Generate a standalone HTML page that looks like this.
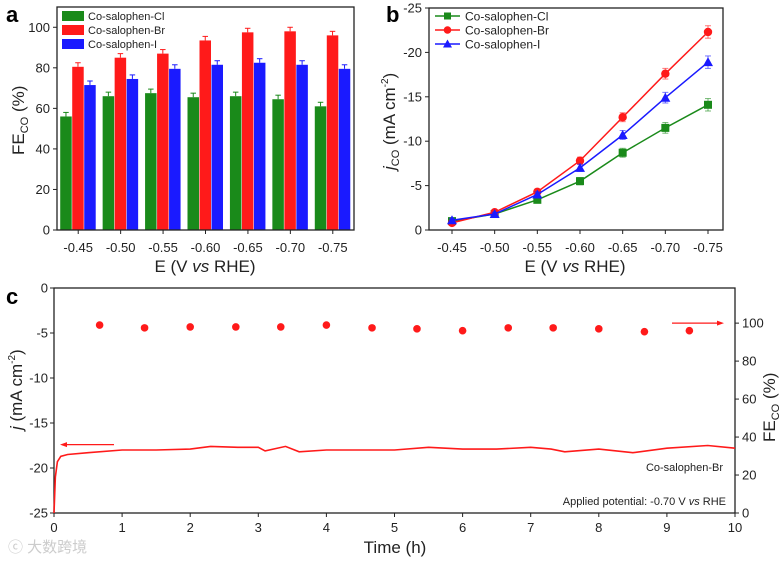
<!DOCTYPE html>
<html><head><meta charset="utf-8"><style>
body{margin:0;background:#fff;}
svg{display:block;font-family:"Liberation Sans","Noto Sans CJK SC",sans-serif;}
</style></head><body>
<svg id="s" width="779" height="561" viewBox="0 0 779 561"></svg>
<script>
const cats=['-0.45','-0.50','-0.55','-0.60','-0.65','-0.70','-0.75'];
const feCl=[56,66,67.5,65.5,66,64.5,61];
const feBr=[80.5,85,87,93.5,97.5,98,96];
const feI=[71.5,74.5,79.5,81.5,82.5,81.5,79.5];
const feErr=[2,2,2,2,2,2,2];
const jCl=[-1,-1.8,-3.4,-5.5,-8.7,-11.5,-14.1];
const jBr=[-0.8,-2,-4.3,-7.8,-12.7,-17.6,-22.3];
const jI=[-1.1,-1.8,-4,-7,-10.7,-14.9,-18.9];
const jErr=[0.2,0.2,0.3,0.4,0.5,0.6,0.7];
const aTicks=[0,20,40,60,80,100];
const bTicks=[0,-5,-10,-15,-20,-25];
const cTime=[0,0.02,0.05,0.1,0.2,0.5,1,1.5,2,2.3,2.7,3,3.1,3.4,3.6,4,4.5,5,5.5,6,6.5,7,7.3,7.5,8,8.5,9,9.6,10];
const cJ=[-25,-21,-19.3,-18.7,-18.5,-18.3,-18,-18,-17.9,-17.6,-17.7,-17.7,-18.1,-17.6,-18.2,-18,-18,-18,-17.7,-17.9,-17.9,-17.7,-17.9,-18.2,-17.9,-18.3,-17.8,-17.5,-17.8];
const fTime=[0.67,1.33,2,2.67,3.33,4,4.67,5.33,6,6.67,7.33,8,8.67,9.33];
const fVal=[99,97.5,98,98,98,99,97.5,97,96,97.5,97.5,97,95.5,96];
const cLeftTicks=[0,-5,-10,-15,-20,-25];
const cRightTicks=[0,20,40,60,80,100];
const cTimeTicks=[0,1,2,3,4,5,6,7,8,9,10];

const S=document.getElementById('s');const NS='http://www.w3.org/2000/svg';
function el(t,a,p){const e=document.createElementNS(NS,t);for(const k in a)e.setAttribute(k,a[k]);(p||S).appendChild(e);return e;}
function tx(x,y,s,o){const e=el('text',Object.assign({x:x,y:y,'font-size':13,fill:'#222'},o||{}));e.textContent=s;return e;}
const G='#1a8a1a',R='#ff1a1a',B='#1a1aff';

// Panel a
const ax0=57,ax1=354,ay0=230,ay1=7;
const aY=v=>ay0-(v/110)*(ay0-ay1);
const aX=i=>ax0+(i+0.5)*(ax1-ax0)/7;
[[feCl,G,'cl'],[feBr,R,'br'],[feI,B,'i']].forEach((s,k)=>{s[0].forEach((v,i)=>{const x=aX(i)-18+k*12;
const r=el('rect',{x:x,y:aY(v),width:11.5,height:ay0-aY(v),fill:s[1]});

el('line',{x1:x+5.75,x2:x+5.75,y1:aY(v),y2:aY(v+feErr[i]),stroke:s[1]});
el('line',{x1:x+3,x2:x+8.5,y1:aY(v+feErr[i]),y2:aY(v+feErr[i]),stroke:s[1]});});});
el('rect',{x:ax0,y:ay1,width:ax1-ax0,height:ay0-ay1,fill:'none',stroke:'#222','stroke-width':1.3,});
aTicks.forEach(v=>{el('line',{x1:ax0-4,x2:ax0,y1:aY(v),y2:aY(v),stroke:'#222'});tx(ax0-7,aY(v)+4.5,v,{'text-anchor':'end'});});
cats.forEach((c,i)=>{el('line',{x1:aX(i),x2:aX(i),y1:ay0,y2:ay0+4,stroke:'#222'});tx(aX(i),ay0+22,c,{'text-anchor':'middle'});});
const at=tx(205,272,'E (V ',{'text-anchor':'middle','font-size':17});const ts=el('tspan',{'font-style':'italic'},at);ts.textContent='vs';const ts2=el('tspan',{},at);ts2.textContent=' RHE)';

const ay=tx(0,0,'FE',{'font-size':17,transform:'translate(24,155) rotate(-90)',});const sb=el('tspan',{'font-size':11,dy:4},ay);sb.textContent='CO';const sb2=el('tspan',{dy:-4},ay);sb2.textContent=' (%)';
tx(6,22,'a',{'font-size':22,'font-weight':'bold',fill:'#000'});
[['Co-salophen-Cl',G],['Co-salophen-Br',R],['Co-salophen-I',B]].forEach((l,i)=>{el('rect',{x:62,y:11+i*14,width:22,height:10,fill:l[1],});tx(88,20+i*14,l[0],{'font-size':11});});

// Panel b
const bx0=429,bx1=723,by0=230,by1=8;
const bY=v=>by0-(v/-25)*(by0-by1);
const bX=i=>452+i*(708-452)/6;
el('rect',{x:bx0,y:by1,width:bx1-bx0,height:by0-by1,fill:'none',stroke:'#222','stroke-width':1.3,});
bTicks.forEach(v=>{el('line',{x1:bx0-4,x2:bx0,y1:bY(v),y2:bY(v),stroke:'#222'});tx(bx0-7,bY(v)+4.5,v,{'text-anchor':'end'});});
cats.forEach((c,i)=>{el('line',{x1:bX(i),x2:bX(i),y1:by0,y2:by0+4,stroke:'#222'});tx(bX(i),by0+22,c,{'text-anchor':'middle'});});
[[jCl,G,'sq','cl'],[jBr,R,'ci','br'],[jI,B,'tr','i']].forEach(s=>{
const p=el('polyline',{points:s[0].map((v,i)=>bX(i)+','+bY(v)).join(' '),fill:'none',stroke:s[1],'stroke-width':1.5});

s[0].forEach((v,i)=>{const x=bX(i),y=bY(v);let m;
const ya=bY(v-jErr[i]),yb=bY(v+jErr[i]);
el('line',{x1:x,x2:x,y1:ya,y2:yb,stroke:s[1],'stroke-opacity':0.6});
el('line',{x1:x-3,x2:x+3,y1:ya,y2:ya,stroke:s[1],'stroke-opacity':0.6});
el('line',{x1:x-3,x2:x+3,y1:yb,y2:yb,stroke:s[1],'stroke-opacity':0.6});
if(s[2]=='sq')m=el('rect',{x:x-4,y:y-4,width:8,height:8,fill:s[1]});
else if(s[2]=='ci')m=el('circle',{cx:x,cy:y,r:4.2,fill:s[1]});
else m=el('polygon',{points:`${x},${y-5} ${x-5},${y+4} ${x+5},${y+4}`,fill:s[1]});
});});
const bt=tx(575,272,'E (V ',{'text-anchor':'middle','font-size':17,});const t1=el('tspan',{'font-style':'italic'},bt);t1.textContent='vs';const t2=el('tspan',{},bt);t2.textContent=' RHE)';
const byt=tx(0,0,'',{'font-size':17,transform:'translate(395,170) rotate(-90)',});const j1=el('tspan',{'font-style':'italic'},byt);j1.textContent='j';const j2=el('tspan',{'font-size':11,dy:4},byt);j2.textContent='CO';const j3=el('tspan',{dy:-4},byt);j3.textContent=' (mA cm';const j4=el('tspan',{'font-size':10,dy:-7},byt);j4.textContent='-2';const j5=el('tspan',{dy:7},byt);j5.textContent=')';
tx(386,22,'b',{'font-size':22,'font-weight':'bold',fill:'#000'});
[['Co-salophen-Cl',G,'sq'],['Co-salophen-Br',R,'ci'],['Co-salophen-I',B,'tr']].forEach((l,i)=>{const y=16+i*14;el('line',{x1:435,x2:460,y1:y,y2:y,stroke:l[1],'stroke-width':1.5});
if(l[2]=='sq')el('rect',{x:444,y:y-3.5,width:7,height:7,fill:l[1]});else if(l[2]=='ci')el('circle',{cx:447.5,cy:y,r:3.8,fill:l[1]});else el('polygon',{points:`447.5,${y-4.5} 443,${y+3.5} 452,${y+3.5}`,fill:l[1]});
tx(465,y+4.5,l[0],{'font-size':12});});

// Panel c
const cx0=54,cx1=735,cy0=513,cy1=288;
const cX=t=>cx0+t/10*(cx1-cx0);
const cY=v=>cy1+(v/-25)*(cy0-cy1);
const cR=v=>cy0-v/118.5*(cy0-cy1);
el('rect',{x:cx0,y:cy1,width:cx1-cx0,height:cy0-cy1,fill:'none',stroke:'#222','stroke-width':1.3,});
cLeftTicks.forEach(v=>{el('line',{x1:cx0-4,x2:cx0,y1:cY(v),y2:cY(v),stroke:'#222'});tx(cx0-6,cY(v)+4.5,v,{'text-anchor':'end'});});
cRightTicks.forEach(v=>{el('line',{x1:cx1,x2:cx1+4,y1:cR(v),y2:cR(v),stroke:'#222'});tx(cx1+7,cR(v)+4.5,v,{});});
cTimeTicks.forEach(v=>{el('line',{x1:cX(v),x2:cX(v),y1:cy0,y2:cy0+4,stroke:'#222'});tx(cX(v),cy0+19,v,{'text-anchor':'middle'});});
const cl=el('polyline',{points:cTime.map((t,i)=>cX(t)+','+cY(cJ[i])).join(' '),fill:'none',stroke:R,'stroke-width':1.6});

fTime.forEach((t,i)=>{const c=el('circle',{cx:cX(t),cy:cR(fVal[i]),r:3.8,fill:R});});
el('line',{x1:62,x2:114,y1:cY(-17.4),y2:cY(-17.4),stroke:R,'stroke-width':1.2});el('polygon',{points:`60,${cY(-17.4)} 67,${cY(-17.4)-2.5} 67,${cY(-17.4)+2.5}`,fill:R});
el('line',{x1:672,x2:722,y1:cR(100),y2:cR(100),stroke:R,'stroke-width':1.2});el('polygon',{points:`724,${cR(100)} 717,${cR(100)-2.5} 717,${cR(100)+2.5}`,fill:R});
tx(723,471,'Co-salophen-Br',{'text-anchor':'end','font-size':11});
const ap=tx(726,505,'Applied potential: -0.70 V ',{'text-anchor':'end','font-size':11});const v1=el('tspan',{'font-style':'italic'},ap);v1.textContent='vs';const v2=el('tspan',{},ap);v2.textContent=' RHE';
tx(395,553,'Time (h)',{'text-anchor':'middle','font-size':17,});
const cyt=tx(0,0,'',{'font-size':17,transform:'translate(22,430) rotate(-90)',});const c1=el('tspan',{'font-style':'italic'},cyt);c1.textContent='j';const c2=el('tspan',{},cyt);c2.textContent=' (mA cm';const c3=el('tspan',{'font-size':10,dy:-7},cyt);c3.textContent='-2';const c4=el('tspan',{dy:7},cyt);c4.textContent=')';
const cyr=tx(0,0,'FE',{'font-size':17,transform:'translate(775,442) rotate(-90)',});const r1=el('tspan',{'font-size':11,dy:4},cyr);r1.textContent='CO';const r2=el('tspan',{dy:-4},cyr);r2.textContent=' (%)';
tx(6,304,'c',{'font-size':22,'font-weight':'bold',fill:'#000'});
tx(8,552,'ⓒ 大数跨境',{'font-size':15,fill:'#ccc',});
</script>
</body></html>
